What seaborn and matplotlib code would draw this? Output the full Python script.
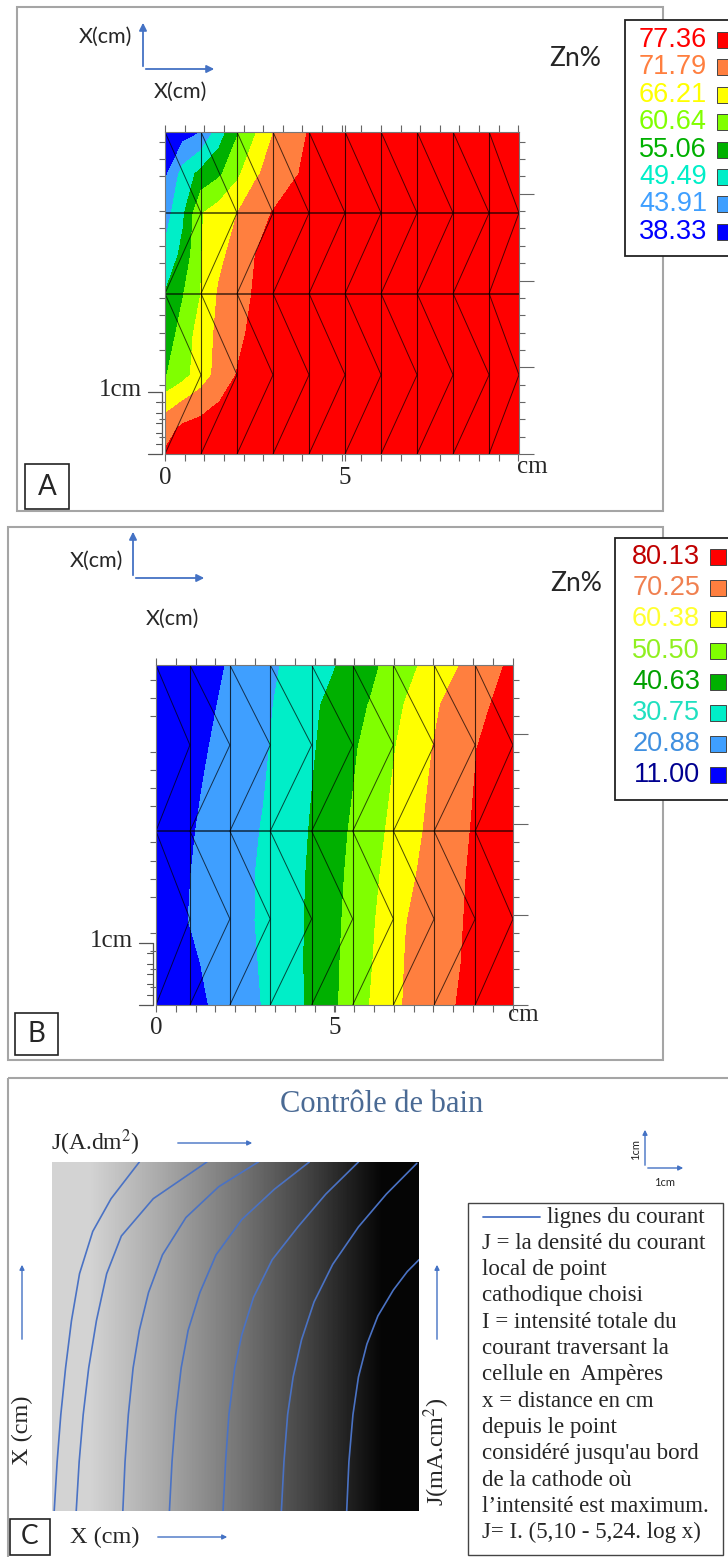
import numpy as np
import pandas as pd
import matplotlib
matplotlib.use("Agg")
import matplotlib.pyplot as plt
import seaborn as sns
from matplotlib.patches import Rectangle
from matplotlib.collections import LineCollection
from matplotlib.ticker import FixedLocator, MultipleLocator

sns.set_style("white")
plt.rcParams["font.family"] = ["Liberation Sans", "DejaVu Sans"]
plt.rcParams["mathtext.fontset"] = "stix"

# ---------------- panel A : Zn% (x in cm, y from bottom) ----------------
a_levels = [38.33, 43.91, 49.49, 55.06, 60.64, 66.21, 71.79, 77.36]
a_x = [0, 0.5, 1, 1.5, 2, 2.5, 3, 3.5, 4, 4.5, 9.83]
a_y = [0, 0.71, 1.45, 2.19, 3.31, 4.42, 5.53, 6.67, 7.75, 8.91]
a_zn = [
    [77.9, 79.6, 80.7, 81.8, 81.8, 81.8, 81.8, 81.8, 81.8, 81.8, 81.8],
    [75.1, 78.5, 79.6, 80.4, 81.0, 81.3, 81.5, 81.8, 81.8, 81.8, 81.8],
    [69.0, 72.0, 74.6, 77.3, 79.0, 80.1, 81.0, 81.5, 81.8, 81.8, 81.8],
    [60.2, 64.3, 69.0, 73.7, 77.6, 79.3, 80.4, 81.3, 81.8, 81.8, 81.8],
    [57.3, 63.0, 68.7, 73.1, 76.0, 78.9, 80.1, 81.0, 81.5, 81.8, 81.8],
    [55.3, 60.4, 66.3, 72.5, 75.1, 77.9, 79.3, 80.4, 81.3, 81.8, 81.8],
    [50.6, 56.6, 66.0, 70.4, 74.0, 77.3, 79.0, 80.1, 81.3, 81.8, 81.8],
    [47.0, 54.1, 65.8, 68.9, 71.7, 75.3, 77.6, 79.6, 80.7, 81.8, 81.8],
    [42.8, 51.7, 56.8, 59.7, 65.0, 70.9, 74.0, 76.5, 78.5, 80.1, 81.8],
    [39.4, 41.6, 43.8, 52.2, 60.0, 65.7, 71.7, 74.7, 77.7, 80.1, 81.8],
]
a_mesh_cols = [0, 1, 2, 3, 4, 5, 6, 7, 8, 9, 9.83]
a_mesh_rows = [0, 2.19, 4.44, 6.67, 8.91]
a_mesh_h = [4.44, 6.67]

# ---------------- panel B ----------------
b_levels = [11.00, 20.88, 30.75, 40.63, 50.50, 60.38, 70.25, 80.13]
b_x = [0, 1, 2, 3, 4, 5, 6, 7, 8, 9, 10]
b_y = [0, 1.17, 2.38, 3.69, 4.91, 6.12, 7.24, 8.46, 9.6]
b_zn = [
    [11.5, 17.8, 24.4, 31.1, 38.9, 49.2, 60.6, 71.2, 77.6, 83.9, 89.5],
    [13.4, 19.4, 25.4, 31.6, 39.3, 48.9, 59.6, 70.7, 76.8, 82.9, 89.1],
    [16.2, 21.4, 26.5, 32.0, 39.2, 48.4, 58.7, 70.0, 76.3, 82.5, 88.7],
    [15.5, 21.0, 26.3, 32.0, 38.9, 47.8, 57.5, 68.0, 75.5, 82.2, 88.8],
    [14.9, 20.3, 25.7, 31.3, 38.2, 47.1, 56.1, 66.2, 74.6, 81.5, 88.3],
    [13.9, 19.3, 24.8, 30.3, 37.5, 45.8, 54.7, 64.6, 73.9, 80.8, 87.7],
    [12.6, 18.2, 23.8, 29.5, 36.7, 44.8, 53.5, 63.2, 72.7, 80.2, 87.6],
    [11.5, 16.5, 22.7, 28.7, 36.0, 43.6, 51.0, 61.0, 70.6, 77.6, 84.6],
    [11.5, 14.9, 21.3, 27.8, 34.1, 40.2, 48.1, 57.3, 66.2, 74.3, 82.2],
]
b_mesh_cols = [0, 0.95, 2.07, 3.2, 4.36, 5.51, 6.65, 7.79, 8.94, 10]
b_mesh_rows = [0, 2.43, 4.91, 7.34, 9.6]
b_mesh_h = [4.91]

band_colors = ["#0000FF", "#3F9FFF", "#00EEC8", "#00B000",
               "#80FF00", "#FFFF00", "#FF7F3F", "#FF0000"]
a_text_colors = ["#0000FF", "#3F9FFF", "#00EEC8", "#00B000",
                 "#80FF00", "#FFFF00", "#FF7F3F", "#FF0000"]
b_text_colors = ["#000090", "#4090E0", "#20E0C0", "#00A000",
                 "#90F020", "#FFFF30", "#F08050", "#C00000"]

# ---------------- panel C : current lines (fractions of the plate) ----------------
c_gray = [0.83, 0.66, 0.47, 0.26, 0.02]
c_u = [
    [0.006, 0.014, 0.024, 0.037, 0.053, 0.075, 0.111, 0.161, 0.238],
    [0.066, 0.074, 0.085, 0.100, 0.121, 0.149, 0.189, 0.276, 0.422],
    [0.193, 0.199, 0.208, 0.221, 0.238, 0.263, 0.301, 0.365, 0.454, 0.562],
    [0.320, 0.327, 0.337, 0.352, 0.371, 0.403, 0.447, 0.517, 0.606, 0.701],
    [0.466, 0.473, 0.482, 0.498, 0.517, 0.549, 0.600, 0.670, 0.746, 0.835],
    [0.625, 0.632, 0.642, 0.657, 0.680, 0.714, 0.765, 0.835, 0.911, 0.994],
    [0.803, 0.809, 0.820, 0.835, 0.858, 0.888, 0.930, 0.968, 1.000],
]
c_v = [
    [0.0, 0.141, 0.276, 0.410, 0.545, 0.680, 0.801, 0.895, 1.0],
    [0.0, 0.141, 0.276, 0.410, 0.545, 0.680, 0.788, 0.895, 1.0],
    [0.0, 0.141, 0.276, 0.410, 0.518, 0.626, 0.734, 0.841, 0.929, 1.0],
    [0.0, 0.141, 0.276, 0.410, 0.518, 0.626, 0.734, 0.835, 0.922, 1.0],
    [0.0, 0.141, 0.276, 0.410, 0.504, 0.612, 0.720, 0.814, 0.908, 1.0],
    [0.0, 0.141, 0.276, 0.384, 0.491, 0.599, 0.707, 0.814, 0.908, 0.996],
    [0.0, 0.141, 0.276, 0.384, 0.478, 0.559, 0.633, 0.686, 0.720],
]
c_lines = ["lignes du courant", "J = la densité du courant", "local de point",
           "cathodique choisi", "I = intensité totale du", "courant traversant la",
           "cellule en  Ampères", "x = distance en cm", "depuis le point",
           "considéré jusqu'au bord", "de la cathode où",
           "l’intensité est maximum.", "J= I. (5,10 - 5,24. log x)"]

W, H = 728, 1557
fig = plt.figure(figsize=(W / 100, H / 100), dpi=100)
fig.patch.set_facecolor("white")

ov = fig.add_axes([0, 0, 1, 1])
ov.set_xlim(0, W)
ov.set_ylim(H, 0)
ov.axis("off")


def px_axes(x0, y0, x1, y1):
    return fig.add_axes([x0 / W, 1 - y1 / H, (x1 - x0) / W, (y1 - y0) / H])


def draw_mesh(ax, cols, rows, hl):
    ax.vlines(cols[1:-1], rows[0], rows[-1], colors="k", lw=0.8, alpha=0.75)
    ax.hlines(hl, cols[0], cols[-1], colors="k", lw=1.1, alpha=0.75)
    segs = []
    for r in range(len(rows) - 1):
        for i in range(len(cols) - 1):
            if r % 2 == 0:
                segs.append([(cols[i], rows[r]), (cols[i + 1], rows[r + 1])])
            else:
                segs.append([(cols[i], rows[r + 1]), (cols[i + 1], rows[r])])
    ax.add_collection(LineCollection(segs, colors="k", lw=0.7, alpha=0.7))


def style_ticks(ax, xstep, ystep):
    ax.xaxis.set_major_locator(FixedLocator([0, 5]))
    ax.xaxis.set_minor_locator(MultipleLocator(xstep))
    ax.set_xticklabels(["0", "5"], fontfamily="Liberation Serif", fontsize=18)
    ax.tick_params(axis="x", which="both", bottom=True, top=True, direction="out",
                   color="#666666", width=0.8, length=5, pad=4)
    ax.yaxis.set_major_locator(MultipleLocator(ystep * 5))
    ax.yaxis.set_minor_locator(MultipleLocator(ystep))
    ax.tick_params(axis="y", which="both", left=True, right=True, labelleft=False,
                   direction="out", color="#666666", width=0.8)
    ax.tick_params(axis="y", which="minor", length=4)
    ax.tick_params(axis="y", which="major", length=11, left=False)
    for s in ax.spines.values():
        s.set_color("#777777")
        s.set_linewidth(0.8)


def contour_panel(box, xs, ys, zn, levels, xmax, ymax, cols, rows, hl, xstep, ystep):
    ax = px_axes(*box)
    ax.contourf(xs, ys, zn, levels=levels + [100], colors=band_colors)
    draw_mesh(ax, cols, rows, hl)
    ax.set_xlim(0, xmax)
    ax.set_ylim(0, ymax)
    style_ticks(ax, xstep, ystep)
    return ax


def legend_box(box, levels, tcols, y0, dy, sq_x):
    x0, y_0, x1, y1 = box
    ov.add_patch(Rectangle((x0, y_0), x1 - x0, y1 - y_0, fc="white", ec="#222222", lw=1.3))
    for k, (lev, tc, fc) in enumerate(zip(levels[::-1], tcols[::-1], band_colors[::-1])):
        y = y0 + dy * k
        ov.text(sq_x - 10, y, f"{lev:.2f}", ha="right", va="center", color=tc,
                fontsize=19.5, family="Liberation Sans")
        ov.add_patch(Rectangle((sq_x, y - 8), 16, 16, fc=fc, ec="#444444", lw=0.7))


def axis_icon(xc, yc, l1, l2):
    ov.annotate("", xy=(xc, yc - 49), xytext=(xc, yc),
                arrowprops=dict(arrowstyle="-|>", color="#4472C4", lw=1.3, mutation_scale=11))
    ov.annotate("", xy=(xc + 74, yc), xytext=(xc, yc),
                arrowprops=dict(arrowstyle="-|>", color="#4472C4", lw=1.3, mutation_scale=11))
    ov.text(l1[0], l1[1], "X(cm)", ha="center", va="center", fontsize=15.5, family="Lato")
    ov.text(l2[0], l2[1], "X(cm)", ha="center", va="center", fontsize=15.5, family="Lato")


def ruler(xr, ybot, ytop):
    ov.plot([xr, xr], [ytop, ybot], color="#555555", lw=0.9)
    for y in [ytop, ybot]:
        ov.plot([xr - 14, xr], [y, y], color="#555555", lw=0.9)
    for k in range(1, 6):
        y = ybot + (ytop - ybot) * k / 6
        ov.plot([xr - 6, xr], [y, y], color="#555555", lw=0.8)


# ---------------- frames ----------------
ov.add_patch(Rectangle((17, 7), 646, 504, fill=False, ec="#A5A5A5", lw=1.5))
ov.add_patch(Rectangle((8, 527), 655, 533, fill=False, ec="#A5A5A5", lw=1.5))
ov.add_patch(Rectangle((8, 1078), 725, 490, fill=False, ec="#A5A5A5", lw=1.5))

# ---------------- panel A ----------------
contour_panel((165, 132, 519, 454), a_x, a_y, a_zn, a_levels, 9.83, 8.91,
              a_mesh_cols, a_mesh_rows, a_mesh_h, 0.545, 0.48)
axis_icon(143, 69, (105, 37), (180, 92))
ov.text(575, 58, "Zn%", ha="center", va="center", fontsize=19, family="Lato")
legend_box((625, 20, 740, 256), a_levels, a_text_colors, 40, 27.4, 717)
ov.text(532, 467, "cm", ha="center", va="center", fontsize=18, family="Liberation Serif")
ov.text(142, 390, "1cm", ha="right", va="center", fontsize=18, family="Liberation Serif")
ruler(162, 454, 392)
ov.add_patch(Rectangle((25, 464), 44, 45, fill=False, ec="#222222", lw=1.2))
ov.text(47, 487, "A", ha="center", va="center", fontsize=20, family="Lato")

# ---------------- panel B ----------------
contour_panel((156, 665, 513, 1005), b_x, b_y, b_zn, b_levels, 10, 9.6,
              b_mesh_cols, b_mesh_rows, b_mesh_h, 0.555, 0.51)
axis_icon(133, 578, (96, 561), (172, 619))
ov.text(576, 583, "Zn%", ha="center", va="center", fontsize=19, family="Lato")
legend_box((615, 538, 740, 800), b_levels, b_text_colors, 557, 31.2, 710)
ov.text(523, 1015, "cm", ha="center", va="center", fontsize=18, family="Liberation Serif")
ov.text(133, 941, "1cm", ha="right", va="center", fontsize=18, family="Liberation Serif")
ruler(153, 1005, 943)
ov.add_patch(Rectangle((15, 1013), 43, 42, fill=False, ec="#222222", lw=1.2))
ov.text(36.5, 1034, "B", ha="center", va="center", fontsize=20, family="Lato")

# ---------------- panel C ----------------
axc = px_axes(52, 1162, 419, 1511)
axc.imshow([c_gray], cmap="gray", vmin=0, vmax=1, aspect="auto",
           extent=(0, 1, 0, 1), interpolation="bilinear")
df = pd.DataFrame([(k, u, v) for k, (us, vs) in enumerate(zip(c_u, c_v))
                   for u, v in zip(us, vs)], columns=["curve", "u", "v"])
sns.lineplot(data=df, x="u", y="v", units="curve", estimator=None, sort=False,
             color="#4A72C4", lw=1.2, ax=axc)
axc.set_xlim(0, 1)
axc.set_ylim(0, 1)
axc.axis("off")

ov.text(382, 1105, "Contrôle de bain", ha="center", va="center", fontsize=22,
        family="Liberation Serif", color="#4A6A94")
ov.text(95, 1143, "J(A.dm$^{2}$)", ha="center", va="center", fontsize=17,
        family="Liberation Serif")
ov.annotate("", xy=(255, 1143), xytext=(175, 1143),
            arrowprops=dict(arrowstyle="-|>", color="#4472C4", lw=1.0, mutation_scale=7))
# small scale icon
ov.annotate("", xy=(645, 1127), xytext=(645, 1168),
            arrowprops=dict(arrowstyle="-|>", color="#4472C4", lw=1.0, mutation_scale=7))
ov.annotate("", xy=(686, 1168), xytext=(645, 1168),
            arrowprops=dict(arrowstyle="-|>", color="#4472C4", lw=1.0, mutation_scale=7))
ov.text(636, 1150, "1cm", ha="center", va="center", rotation=90, fontsize=8, family="Lato")
ov.text(665, 1182, "1cm", ha="center", va="center", fontsize=8, family="Lato")
# side labels
ov.annotate("", xy=(22, 1262), xytext=(22, 1342),
            arrowprops=dict(arrowstyle="-|>", color="#4472C4", lw=1.0, mutation_scale=7))
ov.text(22, 1430, "X (cm)", ha="center", va="center", rotation=90, fontsize=17.5,
        family="Liberation Serif")
ov.annotate("", xy=(437, 1262), xytext=(437, 1342),
            arrowprops=dict(arrowstyle="-|>", color="#4472C4", lw=1.0, mutation_scale=7))
ov.text(437, 1452, "J(mA.cm$^{2}$)", ha="center", va="center", rotation=90, fontsize=17.5,
        family="Liberation Serif")
ov.text(105, 1537, "X (cm)", ha="center", va="center", fontsize=17.5, family="Liberation Serif")
ov.annotate("", xy=(230, 1537), xytext=(155, 1537),
            arrowprops=dict(arrowstyle="-|>", color="#4472C4", lw=1.0, mutation_scale=7))
ov.add_patch(Rectangle((10, 1519), 40, 36, fill=False, ec="#222222", lw=1.2))
ov.text(30, 1537, "C", ha="center", va="center", fontsize=19, family="Lato")

# text box
ov.add_patch(Rectangle((468, 1203), 255, 352, fc="white", ec="#444444", lw=1.0))
ov.plot([483, 540], [1217, 1217], color="#4A72C4", lw=1.3)
for k, line in enumerate(c_lines):
    ov.text(547 if k == 0 else 482, 1217 + 26.3 * k, line, ha="left", va="center",
            fontsize=16.5, family="Liberation Serif")

fig.savefig("out.png", dpi=100)
